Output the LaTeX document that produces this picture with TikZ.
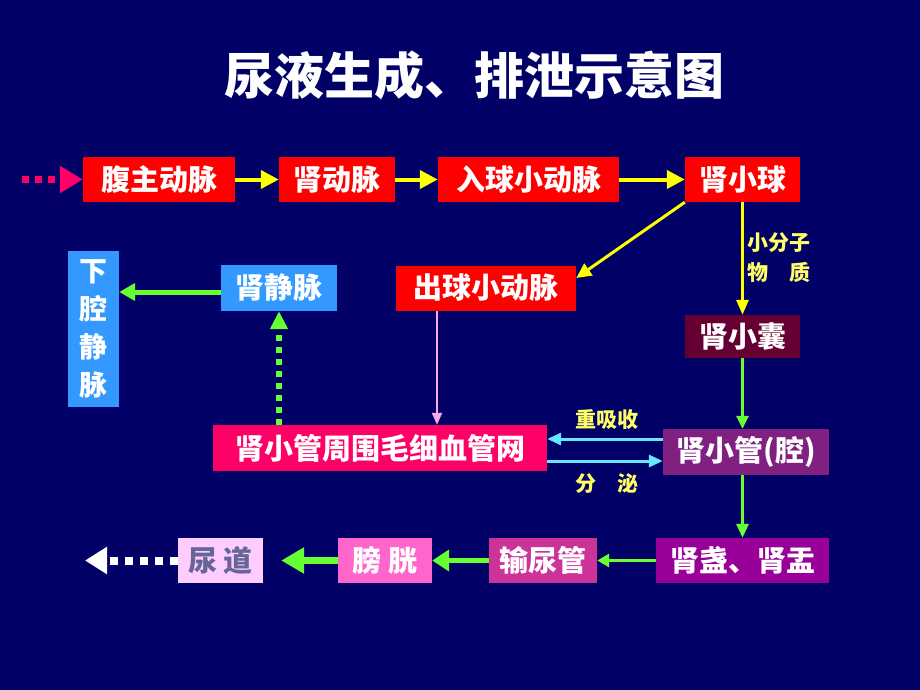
\documentclass[tikz,border=0pt]{standalone}
\usepackage{fontspec}
\setmainfont{Noto Sans CJK SC}
\usetikzlibrary{positioning,arrows.meta}
\definecolor{bgnavy}{HTML}{000066}
\definecolor{artred}{HTML}{FF0000}
\definecolor{veinblue}{HTML}{3399FF}
\definecolor{capsulered}{HTML}{660033}
\definecolor{netpink}{HTML}{FF0066}
\definecolor{tubpurple}{HTML}{802080}
\definecolor{calyxpurple}{HTML}{990099}
\definecolor{ureterpink}{HTML}{CC3399}
\definecolor{bladderpink}{HTML}{FF66CC}
\definecolor{urethrapink}{HTML}{FFCCFF}
\definecolor{urethratext}{HTML}{666699}
\definecolor{arrowyellow}{HTML}{FFFF00}
\definecolor{labelyellow}{HTML}{FFFF66}
\definecolor{arrowgreen}{HTML}{66FF33}
\definecolor{arrowcyan}{HTML}{66E6FF}
\definecolor{arrowlilac}{HTML}{FFA6F0}
\begin{document}
\begin{tikzpicture}[x=1pt,y=-1pt]
            \tikzset{box/.style={inner sep=0pt,minimum height=45pt,text=white,
                     font=\bfseries\fontsize{29}{30}\selectfont},
                     lbl/.style={text=labelyellow,font=\bfseries\fontsize{21}{30}\selectfont,inner sep=0pt},
                     tip/.style 2 args={-{Triangle[length=#1,width=#2]}}}
            \useasboundingbox (0,0) rectangle (920,690);
            \fill[bgnavy] (0,0) rectangle (920,690);

            \node[text=white,font=\bfseries\fontsize{50}{54}\selectfont] (title) at (474,75) {尿液生成、排泄示意图};

            % Blutweg oben
            \node[box,fill=artred,minimum width=152pt] (aorta) at (159,179.5) {腹主动脉};
            \node[box,fill=artred,minimum width=116pt] (renart) at (337,179.5) {肾动脉};
            \node[box,fill=artred,minimum width=181pt] (afferent) at (528.5,179.5) {入球小动脉};
            \node[box,fill=artred,minimum width=115pt] (glom) at (742.5,179.5) {肾小球};
            \coordinate (start) at (22,179.5);

            \node[box,fill=artred,minimum width=180pt] (efferent) at (486,288) {出球小动脉};
            \node[box,fill=veinblue,minimum width=116pt,minimum height=46pt] (renvein) at (279,288) {肾静脉};
            \node[box,fill=veinblue,minimum width=51pt,minimum height=156pt,align=center,
                  font=\bfseries\fontsize{28}{38}\selectfont] (ivc) at (93.5,329) {下\\腔\\静\\脉};
            \node[box,fill=capsulered,minimum width=115pt,minimum height=43pt] (capsule) at (742.5,336.5) {肾小囊};
            \node[box,fill=netpink,minimum width=334pt,minimum height=46pt] (capnet) at (380,448) {肾小管周围毛细血管网};
            \node[box,fill=tubpurple,minimum width=166pt,minimum height=46pt] (tubule) at (746,452) {肾小管(腔)};

            % Harnweg unten
            \node[box,fill=calyxpurple,minimum width=173pt] (calyx) at (742.5,560.5) {肾盏、肾盂};
            \node[box,fill=ureterpink,minimum width=108pt] (ureter) at (543,560.5) {输尿管};
            \node[box,fill=bladderpink,minimum width=94pt] (bladder) at (385,560.5) {膀 胱};
            \node[box,fill=urethrapink,minimum width=85pt,text=urethratext] (urethra) at (220.5,560.5) {尿 道};
            \coordinate (exit) at (85,560.5);

            \node[lbl,align=left] (small) at (779,258) {小分子\\物　质};
            \node[lbl] (reabs) at (607,420) {重吸收};
            \node[lbl] (secr) at (607,484) {分　泌};

            % Pfeile
            \draw[netpink,line width=7pt,dash pattern=on 7pt off 6pt,tip={23pt}{26pt}] (start) -- (aorta.west);
            \draw[arrowyellow,line width=4pt,tip={18pt}{18pt}] (aorta) -- (renart);
            \draw[arrowyellow,line width=4pt,tip={18pt}{18pt}] (renart) -- (afferent);
            \draw[arrowyellow,line width=4pt,tip={18pt}{18pt}] (afferent) -- (glom);
            \draw[arrowyellow,line width=3pt,tip={15pt}{14pt}] (glom.south west) -- ([yshift=10pt]efferent.east);
            \draw[arrowyellow,line width=3pt,tip={15pt}{12pt}] (glom) -- (capsule);

            \draw[arrowlilac,line width=2pt,tip={12pt}{10pt}] ([xshift=-49pt]efferent.south) -- ([xshift=-49pt]efferent.south |- capnet.north);
            \draw[arrowgreen,line width=6pt,dash pattern=on 6pt off 6pt,tip={18pt}{17pt}] (capnet.north -| renvein) -- (renvein.south);
            \draw[arrowgreen,line width=5pt,tip={16pt}{17pt}] ([yshift=-4pt]renvein.west) -- ([yshift=-4pt]renvein.west -| ivc.east);

            \draw[arrowgreen,line width=3pt,tip={13pt}{12pt}] (capsule) -- (capsule |- tubule.north);
            \draw[arrowcyan,line width=3pt,tip={14pt}{12pt}] ([yshift=13pt]tubule.west) -- ([yshift=13pt]tubule.west -| capnet.east);
            \draw[arrowcyan,line width=3pt,tip={14pt}{12pt}] ([yshift=-13pt]capnet.east) -- ([yshift=-13pt]capnet.east -| tubule.west);
            \draw[arrowgreen,line width=3pt,tip={14pt}{12pt}] (calyx |- tubule.south) -- (calyx.north);

            \draw[arrowgreen,line width=3pt,tip={12pt}{13pt}] (calyx) -- (ureter);
            \draw[arrowgreen,line width=5pt,tip={17pt}{21pt}] (ureter) -- (bladder);
            \draw[arrowgreen,line width=7pt,tip={23pt}{25pt}] (bladder) -- ([xshift=18pt]urethra.east);
            \draw[white,line width=8pt,dash pattern=on 8pt off 7pt,tip={22pt}{26pt}] (urethra.west) -- (exit);
\end{tikzpicture}
\end{document}
